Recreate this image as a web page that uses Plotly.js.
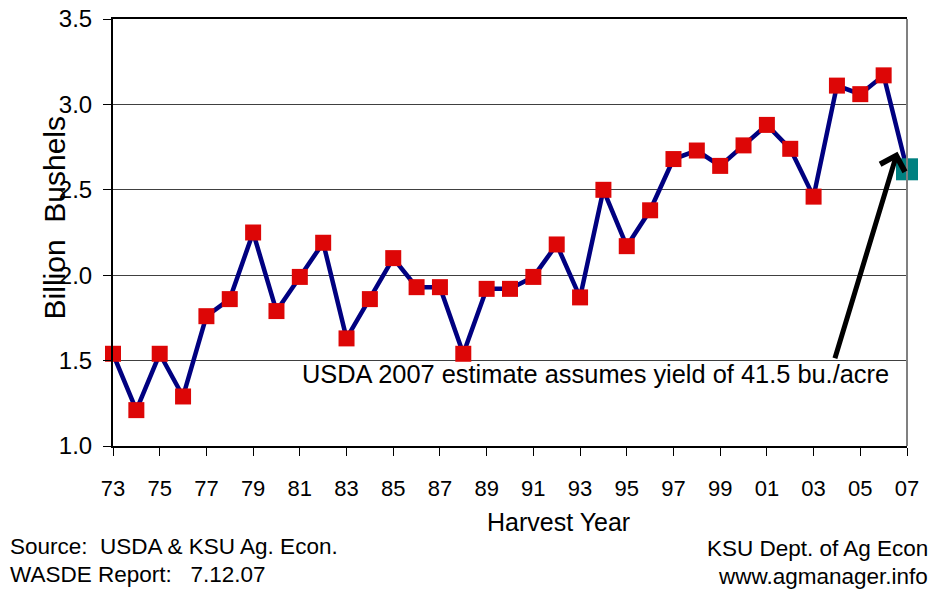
<!DOCTYPE html>
<html>
<head>
<meta charset="utf-8">
<script src="https://cdn.plot.ly/plotly-3.0.1.min.js"></script>
<style>
  html, body { margin: 0; padding: 0; background: #ffffff; }
  #chart { width: 940px; height: 597px; }
</style>
</head>
<body>
<div id="chart"></div>
<script>
// Harvest years (category labels)
const years = ['73','74','75','76','77','78','79','80','81','82','83','84','85','86','87','88','89','90',
               '91','92','93','94','95','96','97','98','99','00','01','02','03','04','05','06','07'];
// Production, billion bushels (2007 = USDA estimate)
const production = [1.54,1.21,1.54,1.29,1.76,1.86,2.25,1.79,1.99,2.19,1.63,1.86,2.10,1.93,1.93,1.54,1.92,1.92,
                    1.99,2.18,1.87,2.50,2.17,2.38,2.68,2.73,2.64,2.76,2.88,2.74,2.46,3.11,3.06,3.17,2.62];
// Tick labels
const xTickLabels = ['73','75','77','79','81','83','85','87','89','91','93','95','97','99','01','03','05','07'];
const yTickVals = [1.0, 1.5, 2.0, 2.5, 3.0, 3.5];

const nHist = years.length - 1;
const histYears = years.slice(0, nHist);
const histVals = production.slice(0, nHist);
const estYears = years.slice(nHist);
const estVals = production.slice(nHist);

const FONT = 'Liberation Sans, Arial, sans-serif';

const traces = [
  { type: 'scatter', mode: 'lines', x: years, y: production,
    line: { color: '#000080', width: 4.5 }, cliponaxis: false, hoverinfo: 'skip' },
  { type: 'scatter', mode: 'markers', x: histYears, y: histVals,
    marker: { symbol: 'square', size: 16, color: '#DD0606', line: { width: 0 } }, cliponaxis: false },
  { type: 'scatter', mode: 'markers', x: estYears, y: estVals,
    marker: { symbol: 'square', size: 22, color: '#008080', line: { width: 0 } }, cliponaxis: false }
];

const layout = {
  width: 940, height: 597,
  margin: { l: 113, r: 33, t: 19, b: 151 },
  paper_bgcolor: '#ffffff', plot_bgcolor: '#ffffff',
  showlegend: false,
  font: { family: FONT, color: '#000000' },
  xaxis: {
    type: 'category', range: [0, years.length - 1],
    tickmode: 'array', tickvals: xTickLabels, ticktext: xTickLabels,
    ticks: 'outside', ticklen: 8, tickwidth: 1, tickcolor: '#000000',
    tickfont: { family: FONT, size: 22, color: '#000000' },
    ticklabelstandoff: 14,
    showline: true, linecolor: '#000000', linewidth: 2, mirror: true,
    showgrid: false, zeroline: false, fixedrange: true
  },
  yaxis: {
    range: [1.0, 3.5], tickmode: 'array', tickvals: yTickVals, tickformat: '.1f',
    ticks: 'outside', ticklen: 8, tickwidth: 1, tickcolor: '#000000',
    tickfont: { family: FONT, size: 24, color: '#000000' },
    ticklabelstandoff: 6,
    showline: true, linecolor: '#000000', linewidth: 2,
    showgrid: true, gridcolor: '#404040', gridwidth: 1, zeroline: false, fixedrange: true
  },
  shapes: [
    { type: 'line', xref: 'paper', yref: 'paper', x0: 1, x1: 1, y0: 0, y1: 1,
      line: { color: '#808080', width: 2 } }
  ],
  annotations: [
    { xref: 'paper', yref: 'paper', x: -0.0743, y: 0.533, text: 'Billion  Bushels', textangle: -90,
      showarrow: false, xanchor: 'center', yanchor: 'middle', font: { family: FONT, size: 30 } },
    { xref: 'paper', yref: 'paper', x: 0.5605, y: -0.178, text: 'Harvest Year',
      showarrow: false, xanchor: 'center', yanchor: 'middle', font: { family: FONT, size: 25 } },
    { xref: 'paper', yref: 'paper', x: 0.608, y: 0.169, text: 'USDA 2007 estimate assumes yield of 41.5 bu./acre',
      showarrow: false, xanchor: 'center', yanchor: 'middle', font: { family: FONT, size: 25.4 } },
    { xref: 'paper', yref: 'paper', x: 0.988, y: 0.689, text: '', showarrow: true,
      ax: -63, ay: 208, axref: 'pixel', ayref: 'pixel',
      arrowhead: 4, arrowsize: 1, arrowwidth: 5, arrowcolor: '#000000', standoff: 0, startstandoff: 0 },
    { xref: 'paper', yref: 'paper', x: -0.1322, y: -0.236, text: 'Source:  USDA &amp; KSU Ag. Econ.',
      showarrow: false, xanchor: 'left', yanchor: 'middle', font: { family: FONT, size: 22.5 } },
    { xref: 'paper', yref: 'paper', x: -0.1322, y: -0.302, text: 'WASDE Report:   7.12.07',
      showarrow: false, xanchor: 'left', yanchor: 'middle', font: { family: FONT, size: 22.5 } },
    { xref: 'paper', yref: 'paper', x: 1.029, y: -0.239, text: 'KSU Dept. of Ag Econ',
      showarrow: false, xanchor: 'right', yanchor: 'middle', font: { family: FONT, size: 22.5 } },
    { xref: 'paper', yref: 'paper', x: 1.029, y: -0.305, text: 'www.agmanager.info',
      showarrow: false, xanchor: 'right', yanchor: 'middle', font: { family: FONT, size: 22.5 } }
  ]
};

Plotly.newPlot('chart', traces, layout, { displayModeBar: false, staticPlot: true });
</script>
</body>
</html>
